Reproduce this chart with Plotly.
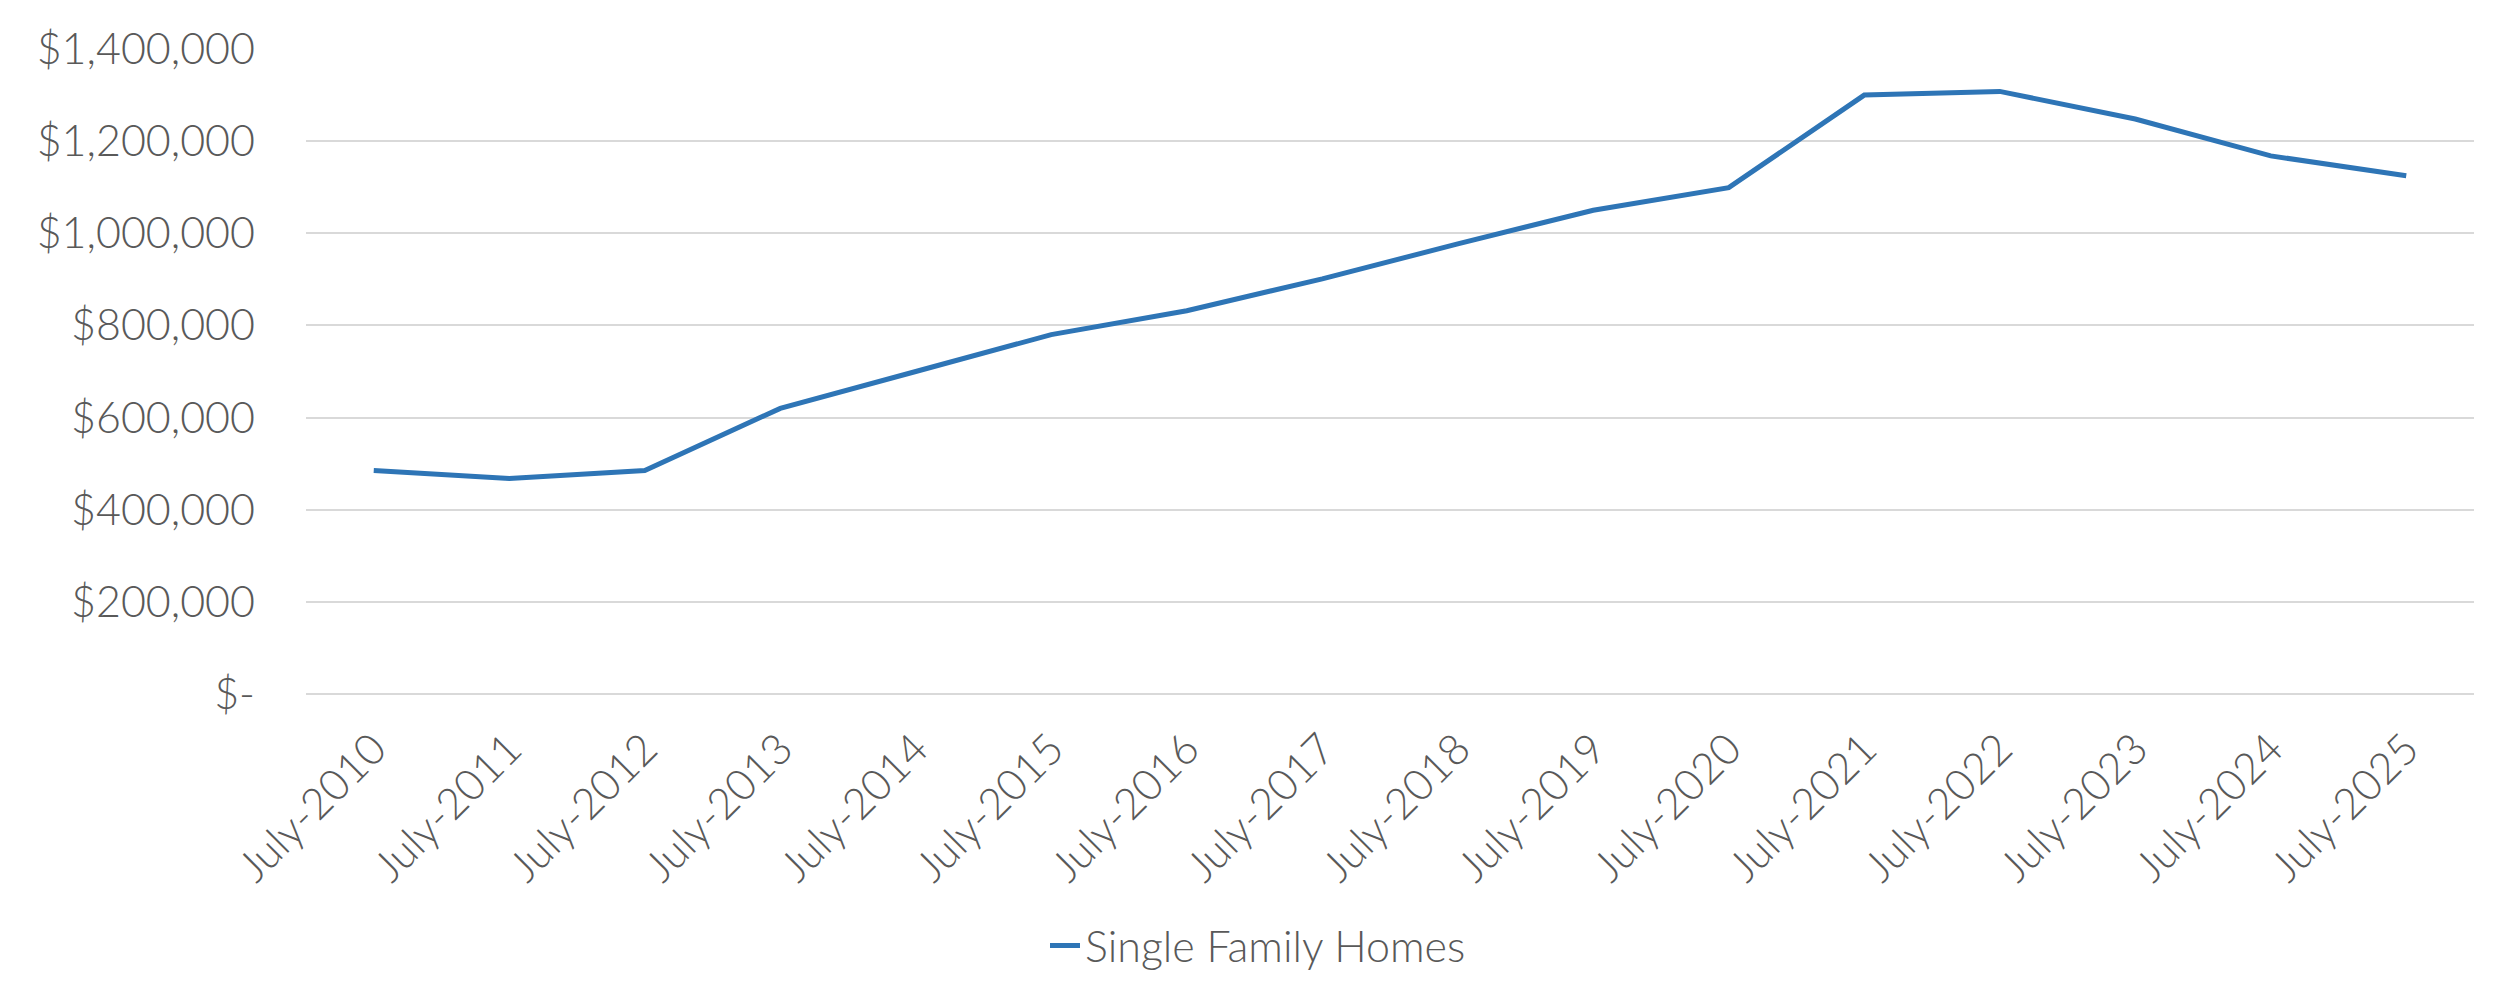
import plotly.graph_objects as go

categories = ["July-2010", "July-2011", "July-2012", "July-2013", "July-2014", "July-2015",
              "July-2016", "July-2017", "July-2018", "July-2019", "July-2020", "July-2021",
              "July-2022", "July-2023", "July-2024", "July-2025"]
single_family = [485000, 468000, 485000, 620000, 700000, 780000, 832000, 901000, 977000,
                 1050000, 1099000, 1300000, 1308000, 1248000, 1168000, 1125000]
y_ticks = [0, 200000, 400000, 600000, 800000, 1000000, 1200000, 1400000]
y_labels = ["$-", "$200,000", "$400,000", "$600,000", "$800,000", "$1,000,000", "$1,200,000", "$1,400,000"]

fig = go.Figure()
fig.add_trace(go.Scatter(x=categories, y=single_family, mode="lines", name="Single Family Homes",
                         line=dict(color="#2E75B6", width=5)))

font = dict(family="Lato", size=43, color="#595959", weight=300)
fig.update_layout(
    width=2500, height=997,
    paper_bgcolor="white", plot_bgcolor="white",
    margin=dict(l=298, r=34, t=41, b=311, autoexpand=False),
    font=font,
    showlegend=True,
    legend=dict(orientation="h", xref="container", x=0.5, xanchor="center",
                y=-0.39, yanchor="middle", font=font),
    xaxis=dict(type="category", tickangle=-45, tickfont=font, showgrid=False,
               showline=False, ticks="", range=[-0.5, 15.5], automargin=False,
               ticklabelstandoff=20),
    yaxis=dict(range=[0, 1400000], tickvals=y_ticks, ticktext=y_labels, tickfont=font,
               showgrid=True, gridcolor="#d9d9d9", gridwidth=2, zeroline=True,
               zerolinecolor="#d9d9d9", zerolinewidth=2, ticks="", ticklen=0,
               ticklabelstandoff=50, automargin=False),
)
fig.write_html("out.html")
